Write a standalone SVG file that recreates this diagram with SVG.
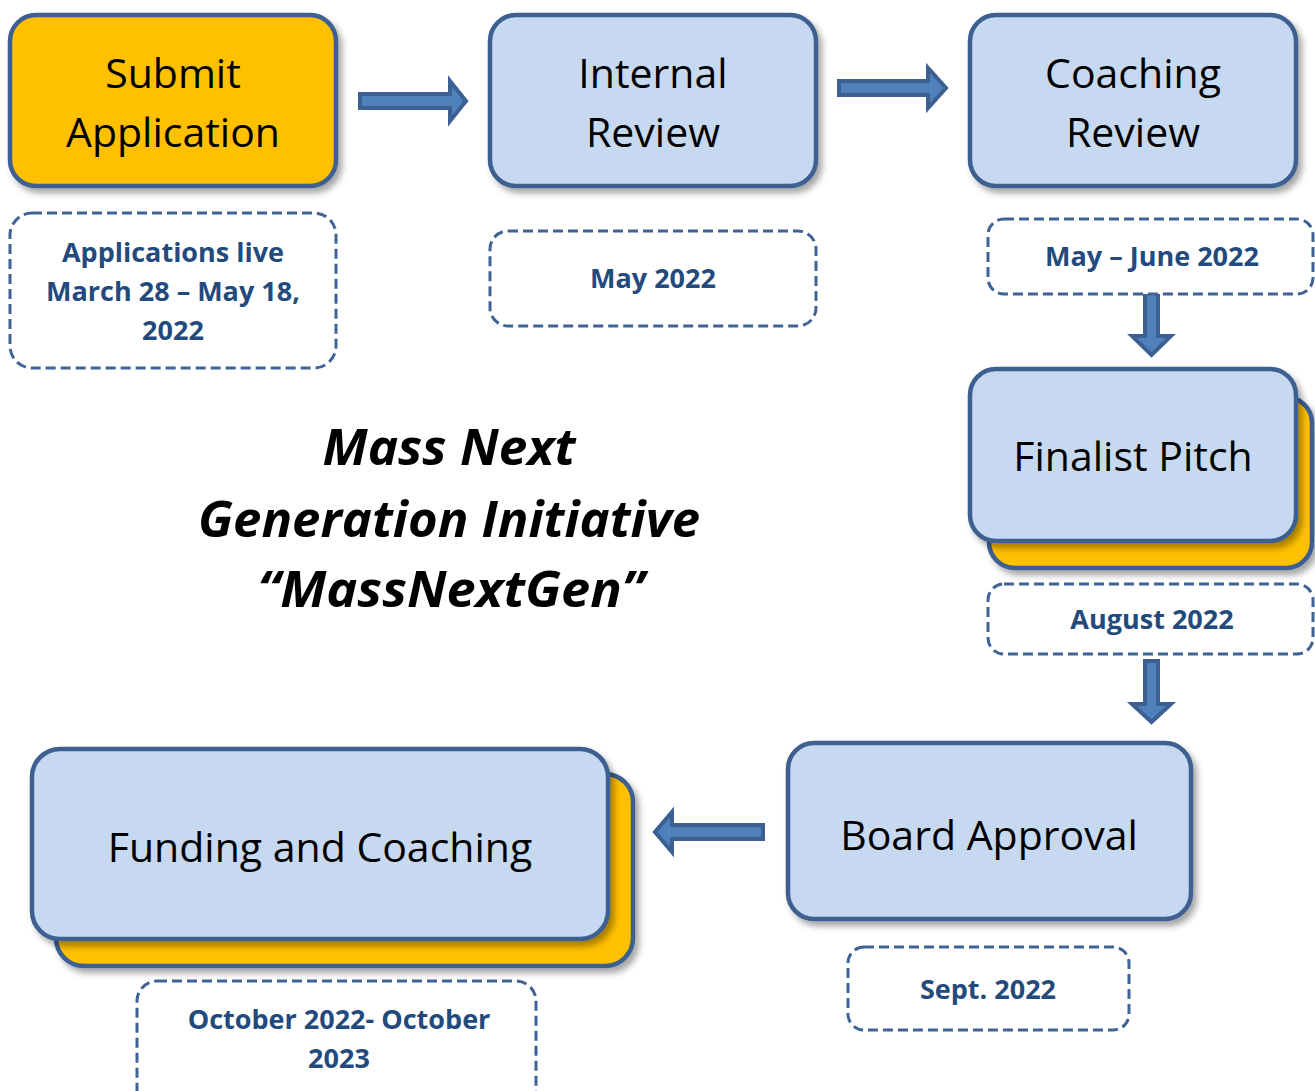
<svg xmlns="http://www.w3.org/2000/svg" width="1315" height="1091" viewBox="0 0 1315 1091">
  <style>
    .step { stroke: #3C6191; stroke-width: 4.5; }
    .blue { fill: #C6D9F0; }
    .gold { fill: #FFC000; }
    .date { fill: #FFFFFF; stroke: #3F6395; stroke-width: 3; stroke-dasharray: 10 5; }
    .label { font-family: "Open Sans", "Noto Sans", sans-serif; font-size: 41px; fill: #000; text-anchor: middle; }
    .when { font-family: "Open Sans", "Noto Sans", sans-serif; font-size: 27px; font-weight: bold; fill: #234A7D; text-anchor: middle; }
    .title { font-family: "Open Sans", "Noto Sans", sans-serif; font-size: 50px; font-weight: bold; font-style: italic; fill: #000; text-anchor: middle; }
    .arrow { fill: #4F81BD; stroke: #3B6091; stroke-width: 4; stroke-linejoin: miter; }
  </style>
  <defs>
    <filter id="shadow" x="-10%" y="-10%" width="125%" height="130%">
      <feDropShadow dx="4" dy="5" stdDeviation="3" flood-color="#000" flood-opacity="0.35"/>
    </filter>
  </defs>

  <rect width="1315" height="1091" fill="#FFFFFF"/>

  <!-- connectors -->
  <g id="connectors">
    <polygon class="arrow" points="360,94 450,94 450,81 466,101 450,121 450,108 360,108"/>
    <polygon class="arrow" points="839,81 928,81 928,68 946,88 928,108 928,95 839,95"/>
    <polygon class="arrow" points="1145,293 1158,293 1158,336 1171,336 1151.5,355 1132,336 1145,336"/>
    <polygon class="arrow" points="1145,661 1158,661 1158,704 1171,704 1151.5,722 1132,704 1145,704"/>
    <polygon class="arrow" points="763,825 672,825 672,812 655,832 672,852 672,839 763,839"/>
  </g>

  <!-- Submit Application -->
  <g id="submit">
    <rect class="step gold" x="10" y="15" width="326" height="171" rx="26" filter="url(#shadow)"/>
    <text class="label" x="173" y="88">Submit</text>
    <text class="label" x="173" y="147">Application</text>
  </g>
  <g id="submit-date">
    <rect class="date" x="10" y="213" width="326" height="155" rx="22"/>
    <text class="when" x="173" y="262">Applications live</text>
    <text class="when" x="173" y="301">March 28 – May 18,</text>
    <text class="when" x="173" y="340">2022</text>
  </g>

  <!-- Internal Review -->
  <g id="internal">
    <rect class="step blue" x="490" y="15" width="326" height="171" rx="26" filter="url(#shadow)"/>
    <text class="label" x="653" y="88">Internal</text>
    <text class="label" x="653" y="147">Review</text>
  </g>
  <g id="internal-date">
    <rect class="date" x="490" y="231" width="326" height="95" rx="18"/>
    <text class="when" x="653" y="288">May 2022</text>
  </g>

  <!-- Coaching Review -->
  <g id="coaching">
    <rect class="step blue" x="970" y="15" width="326" height="171" rx="26" filter="url(#shadow)"/>
    <text class="label" x="1133" y="88">Coaching</text>
    <text class="label" x="1133" y="147">Review</text>
  </g>
  <g id="coaching-date">
    <rect class="date" x="988" y="219" width="325" height="75" rx="16"/>
    <text class="when" x="1152" y="266">May – June 2022</text>
  </g>

  <!-- Finalist Pitch -->
  <g id="finalist">
    <rect class="step gold" x="989" y="397" width="323" height="171" rx="26" filter="url(#shadow)"/>
    <rect class="step blue" x="970" y="369" width="326" height="172" rx="26" filter="url(#shadow)"/>
    <text class="label" x="1133" y="471">Finalist Pitch</text>
  </g>
  <g id="finalist-date">
    <rect class="date" x="988" y="584" width="325" height="70" rx="16"/>
    <text class="when" x="1152" y="629">August 2022</text>
  </g>

  <!-- Board Approval -->
  <g id="board">
    <rect class="step blue" x="788" y="743" width="403" height="176" rx="26" filter="url(#shadow)"/>
    <text class="label" x="989" y="850">Board Approval</text>
  </g>
  <g id="board-date">
    <rect class="date" x="848" y="947" width="281" height="83" rx="16"/>
    <text class="when" x="988" y="999">Sept. 2022</text>
  </g>

  <!-- Funding and Coaching -->
  <g id="funding">
    <rect class="step gold" x="56" y="774" width="577" height="192" rx="28" filter="url(#shadow)"/>
    <rect class="step blue" x="32" y="749" width="576" height="190" rx="28" filter="url(#shadow)"/>
    <text class="label" x="320" y="862">Funding and Coaching</text>
  </g>
  <g id="funding-date">
    <rect class="date" x="137" y="981" width="399" height="130" rx="20"/>
    <text class="when" x="339" y="1029">October 2022- October</text>
    <text class="when" x="339" y="1068">2023</text>
  </g>

  <!-- programme title -->
  <g id="title">
    <text class="title" x="449" y="465" textLength="253" lengthAdjust="spacingAndGlyphs">Mass Next</text>
    <text class="title" x="449" y="537" textLength="502" lengthAdjust="spacingAndGlyphs">Generation Initiative</text>
    <text class="title" x="451" y="607" textLength="387" lengthAdjust="spacingAndGlyphs">“MassNextGen”</text>
  </g>
</svg>
